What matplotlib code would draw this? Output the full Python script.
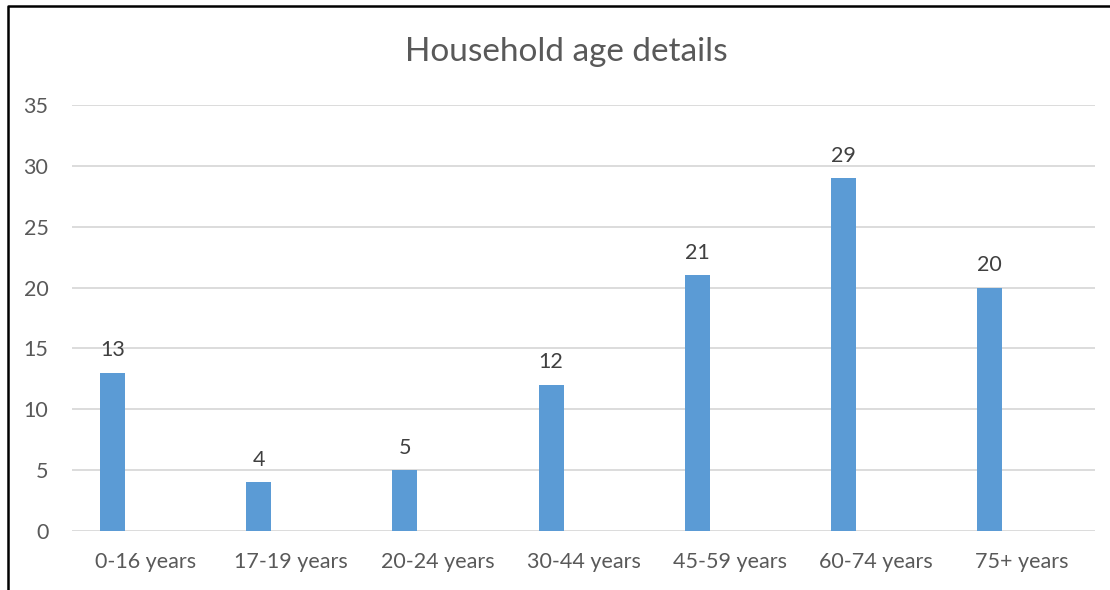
import matplotlib
matplotlib.use('Agg')
import matplotlib.pyplot as plt
from matplotlib.lines import Line2D
import numpy as np

categories = ['0-16 years', '17-19 years', '20-24 years', '30-44 years',
              '45-59 years', '60-74 years', '75+ years']
counts = [13, 4, 5, 12, 21, 29, 20]
y_ticks = [0, 5, 10, 15, 20, 25, 30, 35]

plt.rcParams['font.family'] = ['Lato', 'DejaVu Sans']

W, H = 1110, 590
fig = plt.figure(figsize=(W / 100, H / 100), dpi=100)
ax = fig.add_axes([72 / W, 1 - 531 / H, (1095 - 72) / W, (531 - 105) / H])

x = np.arange(len(categories))
# bars sit to the left of each slot (excel style, empty second series)
bars = ax.bar(x - 0.222, counts, width=0.171, color='#5B9BD5', zorder=3)

for b, v in zip(bars, counts):
    ax.annotate(str(v), (b.get_x() + b.get_width() / 2, v),
                xytext=(0, 9), textcoords='offset points',
                ha='center', va='bottom', fontsize=15.5, color='#404040')

ax.set_xlim(-0.5, len(categories) - 0.5)
ax.set_ylim(0, 35)
ax.set_yticks(y_ticks)
ax.set_xticks(x)
ax.set_xticklabels(categories)
ax.tick_params(axis='both', length=0, labelsize=15.5, labelcolor='#595959')
ax.tick_params(axis='y', pad=17)
ax.tick_params(axis='x', pad=15)
ax.yaxis.grid(True, color='#D9D9D9', linewidth=1.3, zorder=0)
for s in ax.spines.values():
    s.set_visible(False)

fig.text(566 / W, 1 - 52 / H, 'Household age details', ha='center', va='center',
         fontsize=24, color='#595959')

# outer frame bits (left and top edges only)
fig.add_artist(Line2D([8 / W, 8 / W, 1], [0, 1 - 6 / H, 1 - 6 / H],
                      transform=fig.transFigure, color='black', linewidth=1.8))

fig.savefig('out.png', dpi=100)
